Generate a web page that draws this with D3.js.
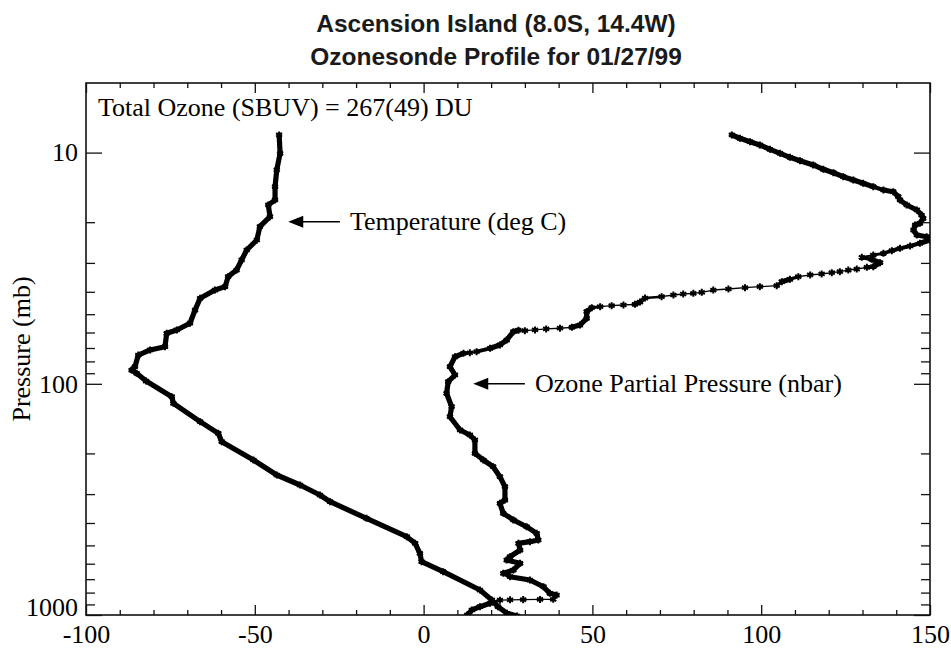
<!DOCTYPE html>
<html>
<head>
<meta charset="utf-8">
<script src="https://cdn.jsdelivr.net/npm/d3@7"></script>
<style>
  body { margin: 0; background: #fff; }
  svg text { font-family: "Liberation Serif", "Times New Roman", serif; fill: #000; }
  svg text.title { font-family: "Liberation Sans", Arial, sans-serif; font-weight: bold; fill: #1a1a1a; }
</style>
</head>
<body>
<div id="chart"></div>
<script>
// DATA: [value, pressure (mb)]

const temperature = [
  [-42.8, 8.39], [-42.5, 10.07], [-43.5, 11.89], [-44.0, 14.04], [-44.0, 16.03],
  [-46.0, 16.85], [-45.5, 18.93], [-48.5, 20.92], [-49.4, 23.88], [-52.4, 26.38],
  [-53.9, 29.14], [-55.4, 32.2], [-57.9, 34.4], [-58.8, 38.0], [-61.8, 39.3],
  [-66.2, 42.7], [-67.7, 47.96], [-69.2, 54.7], [-73.1, 58.5], [-76.1, 60.5],
  [-76.6, 69.1], [-81.0, 71.4], [-84.5, 75.1], [-85.5, 84.3], [-86.5, 87.2],
  [-85.0, 90.1], [-82.2, 97.3], [-74.6, 113.7], [-74.1, 121.4], [-66.2, 145.8],
  [-60.8, 163.8], [-59.8, 178.0], [-50.4, 213.6], [-43.5, 248.0], [-36.6, 274.0],
  [-30.7, 302.7], [-27.7, 323.6], [-16.9, 381.7], [-5.0, 458.5], [-2.5, 489.7],
  [-1.1, 541.0], [-0.6, 588.3], [5.8, 649.7], [16.7, 779.9], [20.2, 861.0],
  [22.0, 920.6], [24.7, 983.1], [27.7, 1010]
];

const ozone = [
  [91.3, 8.39], [93.7, 8.67], [96.7, 8.97], [99.6, 9.27], [102.6, 9.68],
  [105.6, 10.07], [108.5, 10.48], [111.5, 10.84], [115.4, 11.31], [118.4, 11.81],
  [121.4, 12.22], [124.3, 12.71], [127.3, 13.14], [130.2, 13.58], [133.2, 14.04],
  [136.2, 14.51], [139.1, 14.76], [140.6, 15.51], [141.1, 16.03], [143.1, 16.85],
  [146.1, 17.71], [147.5, 18.62], [148.0, 19.24], [147.0, 20.22], [145.6, 20.57],
  [145.1, 21.62], [146.1, 22.72], [149.0, 23.11], [150.0, 23.88], [147.0, 24.68],
  [144.1, 25.35], [141.1, 25.94], [138.7, 26.57], [136.2, 27.27], [133.2, 27.73],
  [129.8, 28.38], [132.7, 28.94], [135.2, 29.94], [133.2, 31.16], [131.3, 31.34],
  [128.3, 31.88], [125.8, 32.2], [123.3, 32.74], [120.9, 33.07], [117.9, 33.5],
  [114.5, 33.83], [111.0, 34.4], [108.5, 35.32], [106.1, 36.18], [104.6, 37.65],
  [99.6, 38.0], [95.2, 38.4], [90.3, 38.9], [85.8, 39.3], [82.4, 40.2],
  [79.9, 40.6], [76.9, 40.89], [74.0, 41.3], [70.5, 42.0], [65.6, 42.56],
  [64.1, 44.29], [62.6, 45.3], [59.2, 45.62], [55.7, 45.94], [52.3, 46.4],
  [49.8, 46.87], [48.3, 48.77], [48.3, 52.1], [46.3, 55.7], [43.9, 56.96],
  [40.4, 57.5], [36.3, 57.9], [33.0, 58.5], [30.0, 58.9], [28.1, 58.6],
  [26.6, 59.5], [24.6, 64.7], [22.6, 67.9], [19.7, 70.2], [15.7, 72.6],
  [13.7, 73.4], [11.8, 73.8], [9.3, 76.4], [7.8, 84.3], [9.3, 91.6],
  [7.3, 97.9], [6.8, 109.9], [8.3, 125.6], [7.8, 138.8], [10.8, 158.4],
  [13.7, 166.5], [15.2, 175.0], [15.2, 199.8], [17.7, 213.6], [20.6, 228.3],
  [22.6, 252.2], [24.1, 278.7], [24.1, 318.2], [22.6, 328.8], [23.6, 363.2],
  [26.6, 388.2], [30.5, 415.0], [33.5, 443.3], [34.0, 473.8], [31.5, 481.9],
  [28.1, 489.7], [28.6, 523.6], [25.6, 559.6], [24.6, 578.3], [28.6, 597.6],
  [26.6, 639.0], [23.6, 660.3], [25.6, 683.1], [31.5, 705.9], [35.5, 754.6],
  [37.4, 805.8], [39.4, 819.6], [38.4, 855.1], [34.5, 856], [29.5, 858],
  [25.6, 860], [22.6, 863], [19.7, 890.0], [16.7, 920.6], [14.3, 951.4],
  [12.9, 1000], [12.6, 1030]
];

// TICKS AND LABELS
const xMajorTicks = [-100, -50, 0, 50, 100, 150];
const xMinorTicks = [-90, -80, -70, -60, -40, -30, -20, -10, 10, 20, 30, 40,
                     60, 70, 80, 90, 110, 120, 130, 140];
const yMajorTicks = [10, 100, 1000];
const yMinorTicks = [20, 30, 40, 50, 60, 70, 80, 90, 200, 300, 400, 500, 600, 700, 800, 900];

const titleLines = ["Ascension Island (8.0S, 14.4W)", "Ozonesonde Profile for 01/27/99"];
const yTitle = "Pressure (mb)";
const totalOzoneLabel = "Total Ozone (SBUV) = 267(49) DU";
const notes = [
  { text: "Temperature (deg C)", tip: [-40.1, 19.9], tail: [-24.8, 19.9], textAt: -21.8 },
  { text: "Ozone Partial Pressure (nbar)", tip: [14.7, 100], tail: [30.0, 100], textAt: 33.0 }
];

// DIMENSIONS
const margin = { top: 83, right: 21, bottom: 35, left: 86 };
const width = 951 - margin.left - margin.right;
const height = 650 - margin.top - margin.bottom;

const x = d3.scaleLinear().domain([-100, 150]).range([0, width]);
const y = d3.scaleLog().domain([5, 1000]).range([0, height]);

const root = d3.select("#chart").append("svg")
  .attr("width", 951)
  .attr("height", 650);

// TITLE
root.selectAll("text.title")
  .data(titleLines)
  .join("text")
  .attr("class", "title")
  .attr("x", 496)
  .attr("y", (d, i) => 32 + i * 33)
  .attr("text-anchor", "middle")
  .style("font-size", "24.5px")
  .text(d => d);

// Y TITLE
root.append("text")
  .attr("transform", `translate(30, ${margin.top + height / 2}) rotate(-90)`)
  .attr("text-anchor", "middle")
  .style("font-size", "26px")
  .text(yTitle);

const svg = root.append("g")
  .attr("transform", `translate(${margin.left}, ${margin.top})`);

svg.append("clipPath").attr("id", "clip")
  .append("rect").attr("width", width).attr("height", height);

// AXES - ticks point inward on all four sides
function styleAxis(g) {
  g.select(".domain").remove();
  g.selectAll("line").attr("stroke", "#111").attr("stroke-width", 1.3);
  g.selectAll("text").style("font-size", "26px").attr("fill", "#000");
}

svg.append("g")
  .call(d3.axisLeft(y).tickValues(yMajorTicks).tickSize(-16).tickPadding(8).tickFormat(d => String(d)))
  .call(styleAxis)
  .selectAll(".tick text")
  .filter(d => d === 1000)
  .attr("y", -8);

svg.append("g")
  .call(d3.axisLeft(y).tickValues(yMinorTicks).tickSize(-9).tickFormat(""))
  .call(styleAxis);

svg.append("g")
  .attr("transform", `translate(${width}, 0)`)
  .call(d3.axisRight(y).tickValues(yMajorTicks).tickSize(-16).tickFormat(""))
  .call(styleAxis);

svg.append("g")
  .attr("transform", `translate(${width}, 0)`)
  .call(d3.axisRight(y).tickValues(yMinorTicks).tickSize(-9).tickFormat(""))
  .call(styleAxis);

svg.append("g")
  .attr("transform", `translate(0, ${height})`)
  .call(d3.axisBottom(x).tickValues(xMajorTicks).tickSize(-10).tickPadding(10).tickFormat(d => String(d)))
  .call(styleAxis);

svg.append("g")
  .attr("transform", `translate(0, ${height})`)
  .call(d3.axisBottom(x).tickValues(xMinorTicks).tickSize(-5).tickFormat(""))
  .call(styleAxis);

svg.append("g")
  .call(d3.axisTop(x).tickValues(xMajorTicks).tickSize(-10).tickFormat(""))
  .call(styleAxis);

svg.append("g")
  .call(d3.axisTop(x).tickValues(xMinorTicks).tickSize(-5).tickFormat(""))
  .call(styleAxis);

// FRAME
svg.append("rect")
  .attr("width", width)
  .attr("height", height)
  .attr("fill", "none")
  .attr("stroke", "#111")
  .attr("stroke-width", 1.6);

// PROFILES - dense samples look like a thick line, sparse ones like a thin line with stars
function drawProfile(data) {
  const pts = data.map(d => [x(d[0]), y(d[1])]);
  const segs = d3.pairs(pts).map((s, i) => {
    const a = Math.max(0, i - 1), b = Math.min(pts.length - 1, i + 2);
    let len = 0;
    for (let k = a; k < b; k++) len += Math.hypot(pts[k + 1][0] - pts[k][0], pts[k + 1][1] - pts[k][1]);
    const steep = len ? Math.abs(pts[b][1] - pts[a][1]) / len : 0;
    const t = Math.max(0, Math.min(1, (steep - 0.16) / 0.14));
    return { s, w: 1.3 + 3.9 * t };
  });

  const g = svg.append("g").attr("clip-path", "url(#clip)");

  g.selectAll("line")
    .data(segs)
    .join("line")
    .attr("x1", d => d.s[0][0])
    .attr("y1", d => d.s[0][1])
    .attr("x2", d => d.s[1][0])
    .attr("y2", d => d.s[1][1])
    .attr("stroke", "#000")
    .attr("stroke-width", d => d.w)
    .attr("stroke-linecap", "round");

  g.selectAll("path")
    .data(data)
    .join("path")
    .attr("transform", d => `translate(${x(d[0])}, ${y(d[1])})`)
    .attr("d", d3.symbol(d3.symbolAsterisk, 34))
    .attr("fill", "none")
    .attr("stroke", "#000")
    .attr("stroke-width", 2);
}

drawProfile(temperature);
drawProfile(ozone);

// ANNOTATIONS
svg.append("text")
  .attr("x", 12)
  .attr("y", 33)
  .style("font-size", "26px")
  .text(totalOzoneLabel);

notes.forEach(n => {
  const tx = x(n.tip[0]), ty = y(n.tip[1]);
  svg.append("line")
    .attr("x1", tx + 12).attr("y1", ty)
    .attr("x2", x(n.tail[0])).attr("y2", ty)
    .attr("stroke", "#000").attr("stroke-width", 1.4);
  svg.append("path")
    .attr("d", `M${tx},${ty} L${tx + 15},${ty - 6} L${tx + 15},${ty + 6} Z`)
    .attr("fill", "#000");
  svg.append("text")
    .attr("x", x(n.textAt))
    .attr("y", ty)
    .attr("dy", "0.32em")
    .style("font-size", "26px")
    .text(n.text);
});
</script>
</body>
</html>
